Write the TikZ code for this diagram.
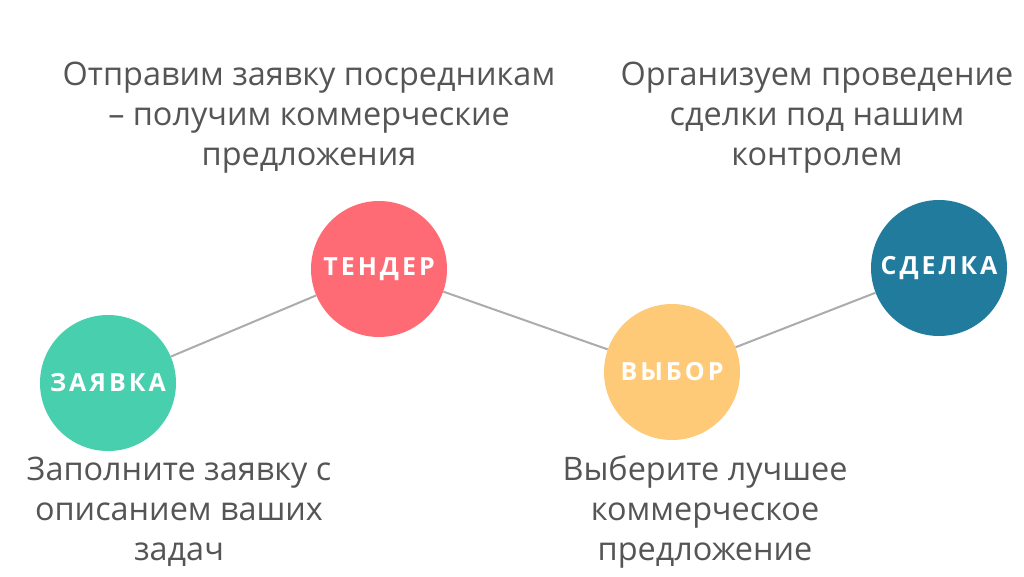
\documentclass[tikz,border=0pt]{standalone}
\usepackage{fontspec}
\setmainfont{Open Sans}
\newfontfamily\circfont[LetterSpace=12]{Open Sans}
\usetikzlibrary{positioning}
\definecolor{gg}{RGB}{72, 207, 173}
\definecolor{rr}{RGB}{255, 107, 117}
\definecolor{yy}{RGB}{255, 202, 120}
\definecolor{bb}{RGB}{33, 123, 157}
\definecolor{tt}{RGB}{85, 85, 85}
\definecolor{ll}{RGB}{172, 172, 172}
\def\diam{136pt}
\newcommand{\stepnode}[5]{\node[circle,minimum size=\diam,inner sep=0pt,fill=#5,text=white,font=\circfont\bfseries\fontsize{25}{28}\selectfont] (#3) at (#1,#2) {#4};}
\tikzset{desc/.style={align=center,text=tt,inner sep=0pt,font=\fontsize{32.4}{40}\selectfont}}

\begin{document}
\begin{tikzpicture}[x=1pt,y=-1pt]
\useasboundingbox[fill=white] (0,0) rectangle (1024,576);
\stepnode{108}{383}{zayavka}{ЗАЯВКА}{gg}
\stepnode{379}{269}{tender}{ТЕНДЕР}{rr}
\stepnode{672}{372}{vybor}{ВЫБОР}{yy}
\stepnode{939}{268}{sdelka}{СДЕЛКА}{bb}

\draw[ll,line width=2pt] (zayavka) -- (tender);
\draw[ll,line width=2pt] (tender) -- (vybor);
\draw[ll,line width=2pt] (vybor) -- (sdelka);

\node[desc] (tenderText) at (309,118) {Отправим заявку посредникам\\– получим коммерческие\\предложения};
\node[desc] (sdelkaText) at (817,118) {Организуем проведение\\сделки под нашим\\контролем};
\node[desc] (zayavkaText) at (179,512) {Заполните заявку с\\описанием ваших\\задач};
\node[desc] (vyborText) at (705,512) {Выберите лучшее\\коммерческое\\предложение};
\end{tikzpicture}
\end{document}
